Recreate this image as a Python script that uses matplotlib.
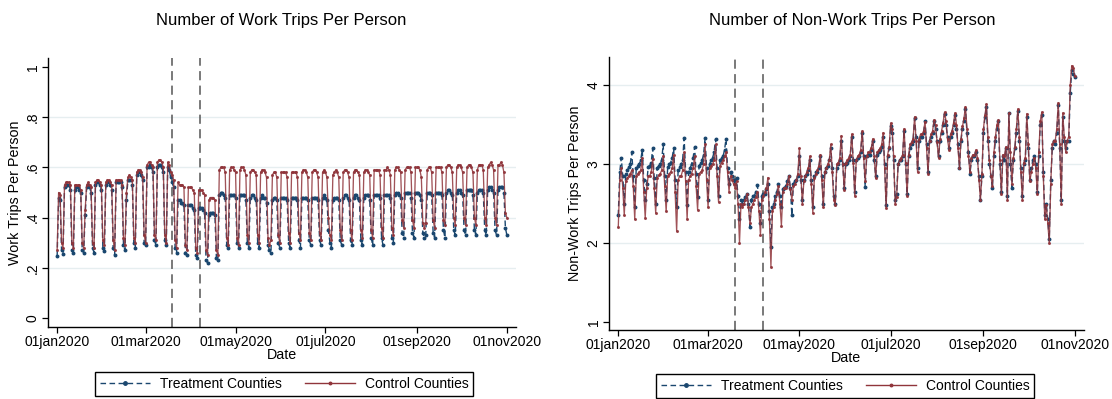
import matplotlib
matplotlib.use('Agg')
import matplotlib.pyplot as plt
from matplotlib.lines import Line2D
import pandas as pd

plt.rcParams['font.family'] = ['Liberation Sans', 'DejaVu Sans']

# daily values, 01jan2020 .. 01nov2020, one row per week (Wed .. Tue)
work_treat_weeks = [
    [0.245, 0.48, 0.47, 0.27, 0.255, 0.52, 0.53],
    [0.53, 0.53, 0.51, 0.27, 0.26, 0.51, 0.52],
    [0.52, 0.51, 0.50, 0.27, 0.26, 0.41, 0.52],
    [0.53, 0.52, 0.50, 0.28, 0.26, 0.53, 0.54],
    [0.54, 0.53, 0.51, 0.28, 0.265, 0.53, 0.54],
    [0.54, 0.53, 0.51, 0.28, 0.25, 0.54, 0.54],
    [0.54, 0.54, 0.52, 0.29, 0.27, 0.47, 0.55],
    [0.55, 0.55, 0.53, 0.30, 0.28, 0.57, 0.58],
    [0.58, 0.57, 0.55, 0.30, 0.29, 0.60, 0.60],
    [0.61, 0.60, 0.58, 0.31, 0.29, 0.60, 0.61],
    [0.61, 0.60, 0.58, 0.31, 0.29, 0.60, 0.59],
    [0.56, 0.54, 0.52, 0.28, 0.26, 0.47, 0.47],
    [0.46, 0.46, 0.45, 0.26, 0.25, 0.45, 0.45],
    [0.45, 0.44, 0.43, 0.25, 0.24, 0.44, 0.44],
    [0.44, 0.43, 0.42, 0.23, 0.22, 0.41, 0.42],
    [0.42, 0.42, 0.41, 0.24, 0.23, 0.49, 0.50],
    [0.50, 0.49, 0.48, 0.29, 0.28, 0.49, 0.49],
    [0.49, 0.49, 0.48, 0.30, 0.28, 0.49, 0.49],
    [0.49, 0.49, 0.47, 0.30, 0.28, 0.48, 0.49],
    [0.49, 0.48, 0.47, 0.30, 0.28, 0.48, 0.49],
    [0.48, 0.48, 0.46, 0.29, 0.27, 0.26, 0.47],
    [0.48, 0.48, 0.47, 0.30, 0.28, 0.48, 0.48],
    [0.48, 0.48, 0.47, 0.30, 0.28, 0.48, 0.48],
    [0.48, 0.48, 0.47, 0.31, 0.28, 0.48, 0.48],
    [0.48, 0.48, 0.47, 0.31, 0.29, 0.48, 0.48],
    [0.48, 0.48, 0.47, 0.31, 0.29, 0.48, 0.49],
    [0.48, 0.47, 0.35, 0.30, 0.28, 0.47, 0.48],
    [0.48, 0.48, 0.47, 0.31, 0.29, 0.48, 0.49],
    [0.49, 0.48, 0.47, 0.31, 0.29, 0.48, 0.49],
    [0.49, 0.48, 0.47, 0.31, 0.29, 0.48, 0.49],
    [0.49, 0.49, 0.47, 0.32, 0.29, 0.49, 0.49],
    [0.49, 0.49, 0.48, 0.32, 0.29, 0.49, 0.49],
    [0.49, 0.49, 0.48, 0.32, 0.30, 0.49, 0.50],
    [0.50, 0.49, 0.48, 0.34, 0.32, 0.50, 0.50],
    [0.50, 0.50, 0.48, 0.34, 0.32, 0.50, 0.50],
    [0.50, 0.49, 0.47, 0.34, 0.32, 0.33, 0.50],
    [0.50, 0.50, 0.49, 0.34, 0.32, 0.50, 0.50],
    [0.50, 0.50, 0.49, 0.35, 0.32, 0.50, 0.51],
    [0.51, 0.50, 0.49, 0.35, 0.33, 0.50, 0.51],
    [0.51, 0.50, 0.49, 0.35, 0.33, 0.51, 0.51],
    [0.51, 0.51, 0.49, 0.35, 0.33, 0.50, 0.51],
    [0.51, 0.51, 0.50, 0.35, 0.33, 0.51, 0.52],
    [0.52, 0.51, 0.50, 0.35, 0.33, 0.51, 0.52],
    [0.52, 0.52, 0.50, 0.36, 0.33],
]

work_ctrl_weeks = [
    [0.27, 0.50, 0.49, 0.30, 0.28, 0.53, 0.54],
    [0.54, 0.54, 0.53, 0.30, 0.28, 0.53, 0.53],
    [0.53, 0.53, 0.51, 0.30, 0.28, 0.43, 0.53],
    [0.54, 0.53, 0.52, 0.30, 0.28, 0.54, 0.55],
    [0.55, 0.54, 0.53, 0.31, 0.29, 0.54, 0.55],
    [0.55, 0.54, 0.53, 0.31, 0.27, 0.55, 0.55],
    [0.55, 0.55, 0.53, 0.32, 0.29, 0.50, 0.56],
    [0.57, 0.56, 0.55, 0.32, 0.30, 0.58, 0.59],
    [0.59, 0.58, 0.56, 0.33, 0.30, 0.61, 0.62],
    [0.62, 0.61, 0.60, 0.33, 0.31, 0.62, 0.63],
    [0.63, 0.62, 0.60, 0.33, 0.30, 0.62, 0.61],
    [0.58, 0.57, 0.55, 0.31, 0.28, 0.54, 0.53],
    [0.53, 0.53, 0.52, 0.29, 0.27, 0.52, 0.52],
    [0.52, 0.51, 0.50, 0.28, 0.26, 0.51, 0.51],
    [0.51, 0.50, 0.49, 0.27, 0.25, 0.47, 0.48],
    [0.48, 0.48, 0.47, 0.27, 0.25, 0.59, 0.60],
    [0.60, 0.60, 0.58, 0.32, 0.29, 0.59, 0.60],
    [0.60, 0.59, 0.58, 0.32, 0.29, 0.59, 0.60],
    [0.60, 0.59, 0.57, 0.33, 0.30, 0.58, 0.59],
    [0.59, 0.58, 0.57, 0.33, 0.30, 0.58, 0.59],
    [0.59, 0.58, 0.56, 0.32, 0.29, 0.31, 0.57],
    [0.58, 0.58, 0.56, 0.33, 0.30, 0.58, 0.58],
    [0.58, 0.58, 0.56, 0.34, 0.30, 0.58, 0.58],
    [0.58, 0.58, 0.56, 0.34, 0.31, 0.58, 0.59],
    [0.59, 0.58, 0.56, 0.34, 0.31, 0.58, 0.59],
    [0.59, 0.58, 0.56, 0.34, 0.31, 0.58, 0.59],
    [0.58, 0.56, 0.40, 0.33, 0.31, 0.57, 0.58],
    [0.59, 0.58, 0.56, 0.35, 0.31, 0.58, 0.59],
    [0.59, 0.58, 0.56, 0.35, 0.31, 0.58, 0.59],
    [0.59, 0.58, 0.57, 0.35, 0.32, 0.58, 0.59],
    [0.59, 0.58, 0.57, 0.35, 0.32, 0.59, 0.59],
    [0.59, 0.59, 0.57, 0.36, 0.32, 0.59, 0.59],
    [0.60, 0.59, 0.57, 0.36, 0.33, 0.59, 0.60],
    [0.60, 0.59, 0.58, 0.39, 0.36, 0.59, 0.60],
    [0.60, 0.60, 0.58, 0.39, 0.36, 0.60, 0.60],
    [0.60, 0.59, 0.56, 0.38, 0.36, 0.38, 0.59],
    [0.60, 0.60, 0.58, 0.39, 0.36, 0.60, 0.60],
    [0.60, 0.60, 0.58, 0.39, 0.37, 0.60, 0.61],
    [0.61, 0.60, 0.58, 0.40, 0.37, 0.60, 0.61],
    [0.61, 0.60, 0.58, 0.40, 0.37, 0.60, 0.61],
    [0.61, 0.60, 0.58, 0.40, 0.37, 0.59, 0.61],
    [0.61, 0.61, 0.59, 0.40, 0.37, 0.60, 0.61],
    [0.62, 0.61, 0.59, 0.40, 0.37, 0.61, 0.61],
    [0.62, 0.61, 0.58, 0.42, 0.40],
]

nonwork_treat_weeks = [
    [2.35, 2.90, 3.08, 2.85, 2.50, 2.88, 2.92],
    [2.96, 3.00, 3.15, 2.85, 2.45, 2.95, 2.98],
    [3.00, 3.05, 3.18, 2.80, 2.55, 2.75, 2.97],
    [2.98, 3.02, 3.20, 2.82, 2.50, 2.95, 2.98],
    [3.00, 3.05, 3.25, 2.85, 2.55, 2.96, 3.00],
    [3.02, 3.08, 3.20, 2.80, 2.45, 2.92, 2.96],
    [3.00, 3.05, 3.33, 2.90, 2.48, 2.90, 2.95],
    [3.00, 3.08, 3.22, 2.88, 2.58, 2.98, 3.02],
    [3.05, 3.12, 3.33, 2.95, 2.55, 3.00, 3.05],
    [3.08, 3.15, 3.32, 2.95, 2.60, 3.05, 3.08],
    [3.10, 3.18, 3.32, 2.95, 2.75, 2.90, 2.85],
    [2.80, 2.75, 2.82, 2.60, 2.30, 2.55, 2.50],
    [2.55, 2.58, 2.62, 2.50, 2.20, 2.55, 2.60],
    [2.60, 2.65, 2.73, 2.50, 2.25, 2.60, 2.62],
    [2.62, 2.68, 2.75, 2.40, 1.95, 2.45, 2.50],
    [2.60, 2.65, 2.75, 2.60, 2.45, 2.68, 2.70],
    [2.72, 2.78, 2.85, 2.70, 2.35, 2.75, 2.78],
    [2.80, 2.85, 3.10, 2.80, 2.55, 2.80, 2.85],
    [2.88, 2.92, 3.05, 2.80, 2.45, 2.85, 2.90],
    [2.90, 2.95, 3.10, 2.85, 2.50, 2.90, 2.95],
    [2.98, 3.05, 3.20, 2.95, 2.60, 2.50, 2.95],
    [3.00, 3.05, 3.30, 3.00, 2.70, 3.00, 3.02],
    [3.05, 3.10, 3.35, 3.05, 2.65, 3.05, 3.08],
    [3.10, 3.15, 3.40, 3.10, 2.71, 3.10, 3.12],
    [3.12, 3.18, 3.30, 3.05, 2.85, 3.12, 3.15],
    [3.18, 3.22, 3.35, 3.00, 2.48, 3.10, 3.20],
    [3.48, 3.40, 3.05, 2.55, 2.62, 3.00, 3.05],
    [3.05, 3.10, 3.42, 3.00, 2.62, 3.10, 3.20],
    [3.25, 3.30, 3.58, 3.35, 2.95, 3.30, 3.35],
    [3.35, 3.40, 3.55, 3.25, 2.90, 3.30, 3.35],
    [3.40, 3.55, 3.45, 3.30, 3.10, 3.30, 3.40],
    [3.50, 3.64, 3.50, 3.35, 3.20, 3.35, 3.40],
    [3.50, 3.62, 3.45, 3.25, 2.95, 3.30, 3.45],
    [3.55, 3.70, 3.40, 3.15, 2.88, 3.05, 3.10],
    [3.10, 3.15, 3.05, 2.85, 2.55, 2.85, 3.40],
    [3.60, 3.72, 3.30, 3.00, 2.85, 2.70, 3.10],
    [3.30, 3.45, 3.55, 3.00, 2.65, 3.10, 3.05],
    [3.20, 2.60, 3.65, 3.00, 2.70, 3.05, 3.20],
    [3.40, 3.68, 3.30, 2.95, 2.60, 3.00, 3.05],
    [3.60, 3.20, 2.80, 2.95, 3.05, 3.10, 3.00],
    [2.65, 3.10, 3.50, 3.62, 2.90, 2.35, 2.50],
    [2.30, 2.05, 2.80, 3.20, 3.30, 3.25, 3.40],
    [3.75, 3.20, 2.55, 3.60, 3.30, 3.20, 3.30],
    [3.30, 3.90, 4.20, 4.15, 4.10],
]

nonwork_ctrl_weeks = [
    [2.20, 2.80, 2.95, 2.70, 2.35, 2.78, 2.82],
    [2.85, 2.88, 2.92, 2.72, 2.30, 2.85, 2.88],
    [2.90, 2.92, 3.08, 2.65, 2.32, 2.70, 2.85],
    [2.85, 2.90, 3.07, 2.70, 2.38, 2.82, 2.86],
    [2.88, 2.92, 3.10, 2.72, 2.40, 2.85, 2.88],
    [2.90, 2.95, 3.12, 2.65, 2.15, 2.80, 2.85],
    [2.85, 2.92, 3.15, 2.78, 2.30, 2.80, 2.85],
    [2.88, 2.95, 3.10, 2.72, 2.42, 2.88, 2.90],
    [2.92, 3.00, 3.25, 2.80, 2.45, 2.95, 2.98],
    [3.00, 3.05, 3.25, 2.85, 2.52, 2.98, 3.02],
    [3.05, 3.10, 3.15, 2.90, 2.65, 2.85, 2.80],
    [2.75, 2.70, 2.78, 2.50, 2.00, 2.50, 2.45],
    [2.50, 2.55, 2.62, 2.45, 2.25, 2.45, 2.50],
    [2.55, 2.58, 2.65, 2.40, 2.10, 2.55, 2.60],
    [2.65, 2.70, 2.83, 2.30, 1.70, 2.40, 2.45],
    [2.55, 2.62, 2.72, 2.50, 2.22, 2.65, 2.70],
    [2.70, 2.75, 2.85, 2.68, 2.55, 2.72, 2.75],
    [2.80, 2.88, 3.20, 2.85, 2.50, 2.78, 2.85],
    [2.90, 2.95, 3.10, 2.75, 2.38, 2.82, 2.88],
    [2.92, 2.98, 3.12, 2.80, 2.45, 2.90, 2.95],
    [3.00, 3.05, 3.25, 2.90, 2.55, 2.48, 3.00],
    [3.02, 3.08, 3.36, 3.00, 2.67, 3.02, 3.05],
    [3.08, 3.12, 3.38, 3.02, 2.60, 3.05, 3.10],
    [3.12, 3.18, 3.42, 3.08, 2.78, 3.10, 3.15],
    [3.15, 3.20, 3.32, 3.10, 2.82, 3.15, 3.18],
    [3.20, 3.25, 3.40, 2.95, 2.44, 3.12, 3.22],
    [3.52, 3.45, 3.10, 2.50, 2.58, 3.00, 3.05],
    [3.08, 3.12, 3.45, 3.02, 2.60, 3.12, 3.25],
    [3.28, 3.32, 3.60, 3.30, 2.90, 3.32, 3.38],
    [3.38, 3.42, 3.54, 3.20, 2.88, 3.30, 3.38],
    [3.42, 3.56, 3.50, 3.28, 3.08, 3.32, 3.42],
    [3.52, 3.66, 3.55, 3.32, 3.18, 3.38, 3.42],
    [3.52, 3.65, 3.50, 3.20, 2.95, 3.32, 3.48],
    [3.58, 3.73, 3.45, 3.10, 2.90, 3.08, 3.12],
    [3.12, 3.18, 3.08, 2.80, 2.54, 2.88, 3.45],
    [3.62, 3.76, 3.35, 3.05, 2.85, 2.72, 3.15],
    [3.35, 3.50, 3.56, 3.05, 2.62, 3.12, 3.10],
    [3.22, 2.55, 3.65, 3.15, 2.75, 3.08, 3.22],
    [3.45, 3.70, 3.35, 2.90, 2.55, 3.02, 3.08],
    [3.64, 3.25, 2.78, 2.90, 3.00, 3.08, 2.95],
    [2.62, 3.15, 3.55, 3.66, 2.85, 2.30, 2.48],
    [2.25, 2.00, 2.75, 3.25, 3.30, 3.30, 3.45],
    [3.78, 3.25, 2.50, 3.65, 3.35, 3.15, 3.30],
    [3.35, 4.00, 4.25, 4.22, 4.12],
]

work_treat = sum(work_treat_weeks, [])
work_ctrl = sum(work_ctrl_weeks, [])
nonwork_treat = sum(nonwork_treat_weeks, [])
nonwork_ctrl = sum(nonwork_ctrl_weeks, [])

dates = pd.date_range('2020-01-01', periods=len(work_treat), freq='D')
event_dates = pd.to_datetime(['2020-03-19', '2020-04-07'])
tick_dates = pd.to_datetime(['2020-01-01', '2020-03-01', '2020-05-01',
                             '2020-07-01', '2020-09-01', '2020-11-01'])
tick_labels = ['01jan2020', '01mar2020', '01may2020', '01jul2020', '01sep2020', '01nov2020']

NAVY = '#1a476f'
MAROON = '#90353b'
GRID = '#e6eef0'

fig = plt.figure(figsize=(11.12, 3.99), dpi=100)
ax_w = fig.add_axes([48 / 1112, 1 - 327 / 399, (516 - 48) / 1112, (327 - 58) / 399])
ax_n = fig.add_axes([609 / 1112, 1 - 330 / 399, (1084 - 609) / 1112, (330 - 57) / 399])


def style_axis(ax, yticks, ylabels, ylim, grid_vals, ylabel):
    ax.set_xlim(pd.Timestamp('2020-01-01') - pd.Timedelta(days=6.2),
                pd.Timestamp('2020-01-01') + pd.Timedelta(days=311.2))
    ax.set_ylim(*ylim)
    for g in grid_vals:
        ax.axhline(g, color=GRID, linewidth=1.0, zorder=0)
    for d in event_dates:
        ax.axvline(d, color='#555555', linewidth=1.1, linestyle=(0, (6, 3.5)), zorder=1)
    ax.spines['top'].set_visible(False)
    ax.spines['right'].set_visible(False)
    ax.spines['left'].set_linewidth(1.0)
    ax.spines['bottom'].set_linewidth(1.0)
    ax.set_xticks(tick_dates)
    ax.set_xticklabels(tick_labels, fontsize=10)
    ax.set_yticks(yticks)
    ax.set_yticklabels(ylabels, fontsize=10, rotation=90, va='center')
    ax.tick_params(axis='both', direction='out', length=4, width=0.9, pad=2)
    ax.set_ylabel(ylabel, fontsize=10.3, labelpad=3)
    ax.set_xlabel('Date', fontsize=10.3, labelpad=-1)


def draw_series(ax, treat, ctrl):
    ax.plot(dates, treat, color=NAVY, linewidth=1.0, linestyle=(0, (4, 2.5)),
            marker='o', markersize=1.8, zorder=2)
    ax.plot(dates, ctrl, color=MAROON, linewidth=0.95, alpha=0.85,
            marker='o', markersize=1.2, zorder=3)


draw_series(ax_w, work_treat, work_ctrl)
style_axis(ax_w, [0, 0.2, 0.4, 0.6, 0.8, 1.0], ['0', '.2', '.4', '.6', '.8', '1'],
           (-0.036, 1.036), [0.2, 0.4, 0.6, 0.8], 'Work Trips Per Person')

draw_series(ax_n, nonwork_treat, nonwork_ctrl)
style_axis(ax_n, [1, 2, 3, 4], ['1', '2', '3', '4'],
           (0.895, 4.36), [2, 3, 4], 'Non-Work Trips Per Person')

fig.text(281 / 1112, 1 - 20 / 399, 'Number of Work Trips Per Person', fontsize=12,
         ha='center', va='center')
fig.text(852 / 1112, 1 - 20 / 399, 'Number of Non-Work Trips Per Person', fontsize=12,
         ha='center', va='center')

handles = [Line2D([], [], color=NAVY, linewidth=1.0, linestyle=(0, (4, 2.5)),
                  marker='o', markersize=2.5),
           Line2D([], [], color=MAROON, linewidth=1.0, marker='o', markersize=1.8)]
names = ['Treatment Counties', 'Control Counties']

for x0, y0 in [(95, 372), (656, 374)]:
    leg = fig.legend(handles, names, ncol=2, fontsize=10, numpoints=1,
                     loc='upper left', handlelength=3.6, columnspacing=1.7,
                     bbox_to_anchor=(x0 / 1112, 1 - y0 / 399), borderaxespad=0,
                     fancybox=False, edgecolor='black', framealpha=1,
                     borderpad=0.35, handletextpad=0.7)
    leg.get_frame().set_linewidth(1.0)

fig.savefig('out.png', dpi=100)
